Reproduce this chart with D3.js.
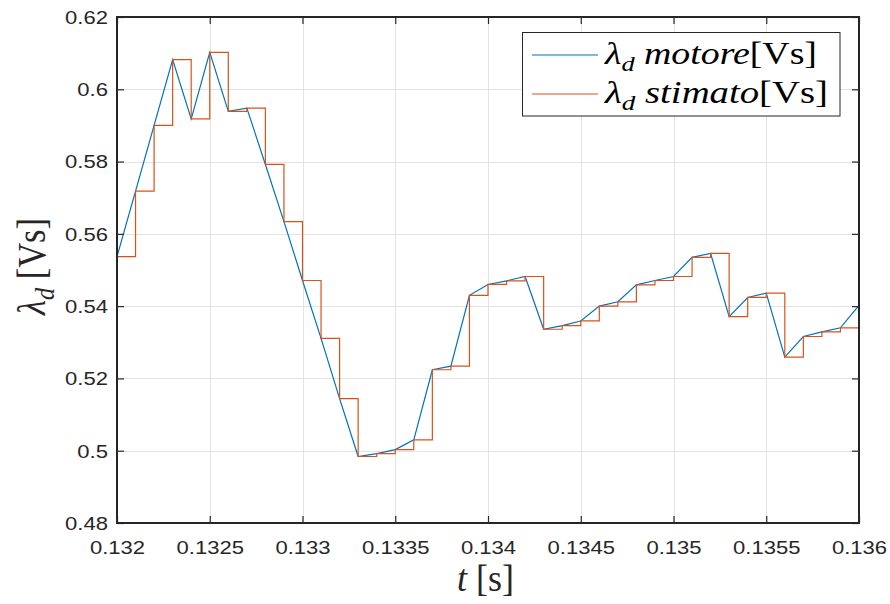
<!DOCTYPE html>
<html>
<head>
<meta charset="utf-8">
<script src="https://cdn.jsdelivr.net/npm/d3@7"></script>
<style>
  body { margin: 0; background: #fff; }
  svg { display: block; }
  .serif { font-family: "Liberation Serif", "Times New Roman", serif; }
</style>
</head>
<body>
<svg id="chart" width="890" height="604"></svg>
<script>
// Sample instants [s] (sampling period 0.1 ms)
const timeS = [
  0.1319, 0.1320, 0.1321, 0.1322, 0.1323, 0.1324, 0.1325, 0.1326, 0.1327, 0.1328,
  0.1329, 0.1330, 0.1331, 0.1332, 0.1333, 0.1334, 0.1335, 0.1336, 0.1337, 0.1338,
  0.1339, 0.1340, 0.1341, 0.1342, 0.1343, 0.1344, 0.1345, 0.1346, 0.1347, 0.1348,
  0.1349, 0.1350, 0.1351, 0.1352, 0.1353, 0.1354, 0.1355, 0.1356, 0.1357, 0.1358,
  0.1359, 0.1360
];

// d-axis flux linkage of the motor [Vs]
const lambdaMotore = [
  0.5404, 0.5537, 0.5718, 0.5900, 0.6082, 0.5918, 0.6102, 0.5939, 0.5948, 0.5792,
  0.5634, 0.5471, 0.5311, 0.5144, 0.4984, 0.4992, 0.5003, 0.5030, 0.5224, 0.5234,
  0.5430, 0.5460, 0.5470, 0.5482, 0.5336, 0.5346, 0.5359, 0.5400, 0.5412, 0.5459,
  0.5471, 0.5482, 0.5535, 0.5546, 0.5371, 0.5424, 0.5436, 0.5259, 0.5316, 0.5329,
  0.5340, 0.5402
];

// Estimated d-axis flux linkage (held between samples) [Vs]
const lambdaStimato = [
  0.5404, 0.5537, 0.5718, 0.5900, 0.6082, 0.5918, 0.6102, 0.5939, 0.5948, 0.5792,
  0.5634, 0.5471, 0.5311, 0.5144, 0.4984, 0.4992, 0.5003, 0.5030, 0.5224, 0.5234,
  0.5430, 0.5460, 0.5470, 0.5482, 0.5336, 0.5346, 0.5359, 0.5400, 0.5412, 0.5459,
  0.5471, 0.5482, 0.5535, 0.5546, 0.5371, 0.5424, 0.5436, 0.5259, 0.5316, 0.5329,
  0.5340, 0.5402
];

const xTicks = [0.132, 0.1325, 0.133, 0.1335, 0.134, 0.1345, 0.135, 0.1355, 0.136];
const xTickLabels = ["0.132", "0.1325", "0.133", "0.1335", "0.134", "0.1345", "0.135", "0.1355", "0.136"];
const yTicks = [0.48, 0.50, 0.52, 0.54, 0.56, 0.58, 0.60, 0.62];
const yTickLabels = ["0.48", "0.5", "0.52", "0.54", "0.56", "0.58", "0.6", "0.62"];

const colMotore = "#0072BD";
const colStimato = "#D95319";
const axisCol = "#262626";

const L = 117, R = 859, T = 17, B = 523;
const svg = d3.select("#chart");

const x = d3.scaleLinear().domain([0.132, 0.136]).range([L, R]);
const y = d3.scaleLinear().domain([0.48, 0.62]).range([B, T]);

// grid
const grid = svg.append("g").attr("shape-rendering", "crispEdges");
grid.selectAll("line.gx").data(xTicks).join("line")
  .attr("x1", d => Math.round(x(d)) + 0.5).attr("x2", d => Math.round(x(d)) + 0.5)
  .attr("y1", T).attr("y2", B)
  .attr("stroke", "#e3e3e3").attr("stroke-width", 1.2);
grid.selectAll("line.gy").data(yTicks).join("line")
  .attr("y1", d => Math.round(y(d)) + 0.5).attr("y2", d => Math.round(y(d)) + 0.5)
  .attr("x1", L).attr("x2", R)
  .attr("stroke", "#e3e3e3").attr("stroke-width", 1.2);

// series
svg.append("clipPath").attr("id", "plotClip")
  .append("rect").attr("x", L - 1).attr("y", T - 1).attr("width", R - L + 2).attr("height", B - T + 2);

const dataMotore = timeS.map((t, i) => ({ t, v: lambdaMotore[i] }));
const dataStimato = timeS.map((t, i) => ({ t, v: lambdaStimato[i] }));

const plot = svg.append("g").attr("clip-path", "url(#plotClip)");
plot.append("path").datum(dataMotore)
  .attr("fill", "none").attr("stroke", colMotore).attr("stroke-width", 1.2)
  .attr("d", d3.line().x(d => x(d.t)).y(d => y(d.v)));
plot.append("path").datum(dataStimato)
  .attr("fill", "none").attr("stroke", colStimato).attr("stroke-width", 1.2)
  .attr("d", d3.line().curve(d3.curveStepAfter).x(d => x(d.t)).y(d => y(d.v)));

// axes (ticks pointing inward on all four sides)
const tickLen = 7;
const font = "Liberation Sans, Arial, Helvetica, sans-serif";
const labelScale = 1.26;

const gxB = svg.append("g").attr("transform", `translate(0,${B})`)
  .call(d3.axisBottom(x).tickValues(xTicks).tickSize(-tickLen).tickSizeOuter(0)
    .tickFormat((d, i) => xTickLabels[i]));
const gxT = svg.append("g").attr("transform", `translate(0,${T})`)
  .call(d3.axisTop(x).tickValues(xTicks).tickSize(-tickLen).tickSizeOuter(0).tickFormat(""));
const gyL = svg.append("g").attr("transform", `translate(${L},0)`)
  .call(d3.axisLeft(y).tickValues(yTicks).tickSize(-tickLen).tickSizeOuter(0)
    .tickFormat((d, i) => yTickLabels[i]));
const gyR = svg.append("g").attr("transform", `translate(${R},0)`)
  .call(d3.axisRight(y).tickValues(yTicks).tickSize(-tickLen).tickSizeOuter(0).tickFormat(""));

[gxB, gxT, gyL, gyR].forEach(g => {
  g.select(".domain").remove();
  g.selectAll(".tick line").attr("stroke", axisCol).attr("stroke-width", 1.2);
  g.selectAll("text").attr("fill", axisCol).attr("font-family", font).attr("font-size", 17.5);
});
gxB.selectAll(".tick text").attr("y", 0).attr("dy", null)
  .attr("transform", `translate(0,31) scale(${labelScale},1)`);
gyL.selectAll(".tick text").attr("x", 0).attr("dy", "0.36em")
  .attr("transform", `translate(-9,0) scale(${labelScale},1)`);

svg.append("rect").attr("x", L).attr("y", T).attr("width", R - L).attr("height", B - T)
  .attr("fill", "none").attr("stroke", axisCol).attr("stroke-width", 1.2)
  .attr("shape-rendering", "crispEdges");

// text helpers
function fitWidth(textSel, width) {
  const w = textSel.node().getComputedTextLength();
  return width / w;
}
function lambdaLabel(sel, rest, restItalic, size) {
  sel.append("tspan").attr("font-style", "italic").text("λ");
  sel.append("tspan").attr("font-style", "italic").attr("font-size", size * 0.7)
    .attr("dy", size * 0.22).text("d");
  sel.append("tspan").attr("dy", -size * 0.22).attr("font-style", restItalic ? "italic" : "normal")
    .text(rest);
  sel.append("tspan").attr("font-style", "normal").text("[Vs]");
}

// x title
const xt = svg.append("text").attr("class", "serif").attr("font-size", 38)
  .attr("fill", axisCol).attr("text-anchor", "middle");
xt.append("tspan").attr("font-style", "italic").text("t");
xt.append("tspan").text(" [s]");
const sxT = fitWidth(xt, 57);
xt.attr("transform", `translate(485.5,591) scale(${sxT},1)`);

// y title (rotated)
const yt = svg.append("text").attr("class", "serif").attr("font-size", 36)
  .attr("fill", axisCol).attr("text-anchor", "middle");
lambdaLabel(yt, " ", false, 36);
const syT = fitWidth(yt, 97);
yt.attr("transform", `translate(45,266.5) scale(1.1,1) rotate(-90) scale(${syT},1)`);

// legend
const leg = svg.append("g");
leg.append("rect").attr("x", 522.5).attr("y", 32.5).attr("width", 317.5).attr("height", 83.5)
  .attr("fill", "#fff").attr("stroke", axisCol).attr("stroke-width", 1);
const legItems = [
  { name: " motore", color: colMotore, ly: 55, width: 212 },
  { name: " stimato", color: colStimato, ly: 94, width: 223 }
];
legItems.forEach(it => {
  leg.append("line").attr("x1", 532).attr("x2", 598).attr("y1", it.ly).attr("y2", it.ly)
    .attr("stroke", it.color).attr("stroke-width", 1.2);
  const tx = leg.append("text").attr("class", "serif").attr("font-size", 31)
    .attr("fill", "#000");
  lambdaLabel(tx, it.name, true, 31);
  const s = fitWidth(tx, it.width);
  tx.attr("transform", `translate(605,${it.ly + 9}) scale(${s},1)`);
});
</script>
</body>
</html>
